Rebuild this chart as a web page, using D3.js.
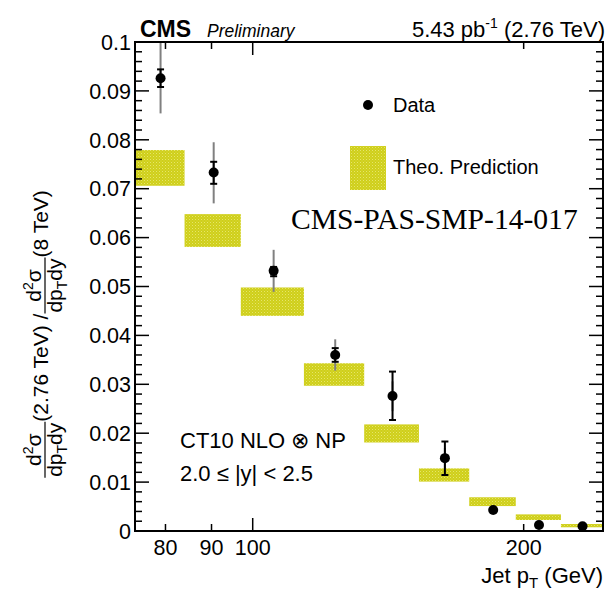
<!DOCTYPE html>
<html>
<head>
<meta charset="utf-8">
<script src="https://cdn.jsdelivr.net/npm/d3@7/dist/d3.min.js"></script>
<style>
  html, body { margin: 0; padding: 0; background: #fff; }
  svg { display: block; }
  text { font-family: "Liberation Sans", Arial, Helvetica, sans-serif; fill: #000; }
</style>
</head>
<body>
<svg id="chart" width="610" height="594"></svg>
<script>
// Jet pT bin edges (GeV)
const binEdges = [74, 84, 97, 114, 133, 153, 174, 196, 220, 245];
// Measured cross-section ratio 2.76 TeV / 8 TeV per bin
const dataRatio = [0.0926, 0.0733, 0.0532, 0.0360, 0.0276, 0.0149, 0.0043, 0.00123, 0.00096];
// Statistical uncertainty band (low / high edges)
const statLow  = [0.0908, 0.0710, 0.0521, 0.0346, 0.0227, 0.01145, 0.0041, 0.00113, 0.00088];
const statHigh = [0.0944, 0.0755, 0.0540, 0.0374, 0.0326, 0.0183, 0.0045, 0.00133, 0.00104];
// Systematic uncertainty band (low / high edges)
const systLow  = [0.0854, 0.0670, 0.0489, 0.0328, 0.0245, 0.0128, 0.0040, 0.00110, 0.00085];
const systHigh = [0.0999, 0.0795, 0.0575, 0.0392, 0.0306, 0.0170, 0.0046, 0.00136, 0.00107];
// Theory prediction band (CT10 NLO x NP)
const theoLow  = [0.0706, 0.0581, 0.0440, 0.0297, 0.0181, 0.0101, 0.0051, 0.00225, 0.00076];
const theoHigh = [0.0779, 0.0648, 0.0498, 0.0343, 0.0218, 0.0128, 0.0069, 0.0034, 0.00143];
// Axis ticks
const xTickValues = [80, 90, 100, 200];
const xTickLong = [100];
const yTickValues = [0, 0.01, 0.02, 0.03, 0.04, 0.05, 0.06, 0.07, 0.08, 0.09, 0.1];
const yTickLabels = ["0", "0.01", "0.02", "0.03", "0.04", "0.05", "0.06", "0.07", "0.08", "0.09", "0.1"];

const svg = d3.select("#chart");
const L = 135, R = 603, T = 42, B = 531;

const x = d3.scaleLog().domain([binEdges[0], binEdges[binEdges.length - 1]]).range([L, R]);
const y = d3.scaleLinear().domain([0, 0.1]).range([B, T]);

const bins = dataRatio.map((v, i) => ({
  lo: binEdges[i], hi: binEdges[i + 1], center: (binEdges[i] + binEdges[i + 1]) / 2,
  v, sLo: statLow[i], sHi: statHigh[i], yLo: systLow[i], yHi: systHigh[i],
  tLo: theoLow[i], tHi: theoHigh[i]
}));

// stippled yellow fill for the theory band
const defs = svg.append("defs");
const pat = defs.append("pattern").attr("id", "theoFill")
  .attr("width", 3).attr("height", 3).attr("patternUnits", "userSpaceOnUse");
pat.append("rect").attr("width", 3).attr("height", 3).attr("fill", "#cfcf1a");
pat.append("rect").attr("x", 0).attr("y", 0).attr("width", 1).attr("height", 1).attr("fill", "#e6e66a");
pat.append("rect").attr("x", 1.5).attr("y", 1.5).attr("width", 1).attr("height", 1).attr("fill", "#dede4a");
defs.append("clipPath").attr("id", "plotClip")
  .append("rect").attr("x", L).attr("y", T).attr("width", R - L).attr("height", B - T);

const plot = svg.append("g").attr("clip-path", "url(#plotClip)");

// theory boxes
plot.selectAll("rect.theo").data(bins).join("rect").attr("class", "theo")
  .attr("x", d => x(d.lo)).attr("width", d => x(d.hi) - x(d.lo))
  .attr("y", d => y(d.tHi)).attr("height", d => y(d.tLo) - y(d.tHi))
  .attr("fill", "url(#theoFill)");

// systematic error bars
plot.selectAll("line.syst").data(bins).join("line").attr("class", "syst")
  .attr("x1", d => x(d.center)).attr("x2", d => x(d.center))
  .attr("y1", d => y(d.yLo)).attr("y2", d => y(d.yHi))
  .attr("stroke", "#808080").attr("stroke-width", 2);

// statistical error bars with caps
const stat = plot.selectAll("g.stat").data(bins).join("g").attr("class", "stat");
stat.append("line")
  .attr("x1", d => x(d.center)).attr("x2", d => x(d.center))
  .attr("y1", d => y(d.sLo)).attr("y2", d => y(d.sHi))
  .attr("stroke", "#000").attr("stroke-width", 2);
stat.append("line")
  .attr("x1", d => x(d.center) - 3.5).attr("x2", d => x(d.center) + 3.5)
  .attr("y1", d => y(d.sLo)).attr("y2", d => y(d.sLo))
  .attr("stroke", "#000").attr("stroke-width", 2);
stat.append("line")
  .attr("x1", d => x(d.center) - 3.5).attr("x2", d => x(d.center) + 3.5)
  .attr("y1", d => y(d.sHi)).attr("y2", d => y(d.sHi))
  .attr("stroke", "#000").attr("stroke-width", 2);

// data markers
plot.selectAll("circle.data").data(bins).join("circle").attr("class", "data")
  .attr("cx", d => x(d.center)).attr("cy", d => y(d.v)).attr("r", 5).attr("fill", "#000");

// frame
svg.append("rect").attr("x", L).attr("y", T).attr("width", R - L).attr("height", B - T)
  .attr("fill", "none").attr("stroke", "#000").attr("stroke-width", 2);

// y ticks: major + 4 minor subdivisions, both sides
const yMinor = d3.range(0, 0.1001, 0.002).filter(v => Math.abs(Math.round(v * 100) - v * 100) > 1e-6);
const tickG = svg.append("g").attr("stroke", "#000").attr("stroke-width", 1.5);
yTickValues.forEach(v => {
  tickG.append("line").attr("x1", L).attr("x2", L + 14).attr("y1", y(v)).attr("y2", y(v));
  tickG.append("line").attr("x1", R).attr("x2", R - 14).attr("y1", y(v)).attr("y2", y(v));
});
yMinor.forEach(v => {
  tickG.append("line").attr("x1", L).attr("x2", L + 7).attr("y1", y(v)).attr("y2", y(v));
  tickG.append("line").attr("x1", R).attr("x2", R - 7).attr("y1", y(v)).attr("y2", y(v));
});
xTickValues.forEach(v => {
  const len = xTickLong.includes(v) ? 13 : 7;
  tickG.append("line").attr("x1", x(v)).attr("x2", x(v)).attr("y1", B).attr("y2", B - len);
  tickG.append("line").attr("x1", x(v)).attr("x2", x(v)).attr("y1", T).attr("y2", T + len);
});

// tick labels
svg.append("g").selectAll("text").data(yTickValues).join("text")
  .attr("x", L - 4).attr("y", d => y(d)).attr("dy", "0.36em")
  .attr("text-anchor", "end").attr("font-size", 21.5)
  .text((d, i) => yTickLabels[i]);
svg.append("g").selectAll("text").data(xTickValues).join("text")
  .attr("x", d => x(d)).attr("y", 555)
  .attr("text-anchor", "middle").attr("font-size", 21.5)
  .text(d => d);

// x-axis title
const xt = svg.append("text").attr("x", R).attr("y", 583).attr("text-anchor", "end").attr("font-size", 22);
xt.append("tspan").text("Jet p");
xt.append("tspan").attr("dy", 5).attr("font-size", 15).text("T");
xt.append("tspan").attr("dy", -5).text(" (GeV)");

// header
svg.append("text").attr("x", 140).attr("y", 37).attr("font-size", 23).attr("font-weight", "bold").text("CMS");
svg.append("text").attr("x", 207).attr("y", 37).attr("font-size", 17.5).attr("font-style", "italic").text("Preliminary");
const lumi = svg.append("text").attr("x", 605).attr("y", 37).attr("text-anchor", "end").attr("font-size", 22);
lumi.append("tspan").text("5.43 pb");
lumi.append("tspan").attr("dy", -9).attr("font-size", 14).text("-1");
lumi.append("tspan").attr("dy", 9).text(" (2.76 TeV)");

// legend
svg.append("circle").attr("cx", 368).attr("cy", 105).attr("r", 5).attr("fill", "#000");
svg.append("text").attr("x", 393).attr("y", 112).attr("font-size", 20).text("Data");
svg.append("rect").attr("x", 350).attr("y", 146).attr("width", 36).attr("height", 44).attr("fill", "url(#theoFill)");
svg.append("text").attr("x", 393).attr("y", 174).attr("font-size", 20).text("Theo. Prediction");

// document reference
svg.append("text").attr("x", 291).attr("y", 229).attr("font-size", 29.6)
  .style("font-family", "'Liberation Serif', 'Times New Roman', serif").text("CMS-PAS-SMP-14-017");

// theory / rapidity annotations
svg.append("text").attr("x", 180).attr("y", 448).attr("font-size", 22).text("CT10 NLO \u2297 NP");
svg.append("text").attr("x", 180).attr("y", 481).attr("font-size", 22).text("2.0 \u2264 |y| < 2.5");

// rotated y-axis title built from two fractions
const fs = 21;
const yl = svg.append("g");
let cursor = 0;
function addText(str) {
  const t = yl.append("text").attr("x", cursor).attr("y", 3).attr("font-size", fs).text(str);
  cursor += t.node().getComputedTextLength();
}
function addFraction() {
  const num = yl.append("text").attr("y", -4).attr("font-size", fs).attr("text-anchor", "middle");
  num.append("tspan").text("d");
  num.append("tspan").attr("dy", -8).attr("font-size", 14).text("2");
  num.append("tspan").attr("dy", 8).text("\u03c3");
  const den = yl.append("text").attr("y", 17).attr("font-size", fs).attr("text-anchor", "middle");
  den.append("tspan").text("dp");
  den.append("tspan").attr("dy", 5).attr("font-size", 14).text("T");
  den.append("tspan").attr("dy", -5).text("dy");
  const w = Math.max(num.node().getComputedTextLength(), den.node().getComputedTextLength()) + 2;
  num.attr("x", cursor + w / 2);
  den.attr("x", cursor + w / 2);
  yl.append("line").attr("x1", cursor).attr("x2", cursor + w).attr("y1", 0).attr("y2", 0)
    .attr("stroke", "#000").attr("stroke-width", 1.2);
  cursor += w;
}
addFraction();
addText("(2.76 TeV) / ");
addFraction();
addText("(8 TeV)");
const total = cursor;
yl.attr("transform", `translate(45, ${334 + total / 2}) rotate(-90)`);
</script>
</body>
</html>
